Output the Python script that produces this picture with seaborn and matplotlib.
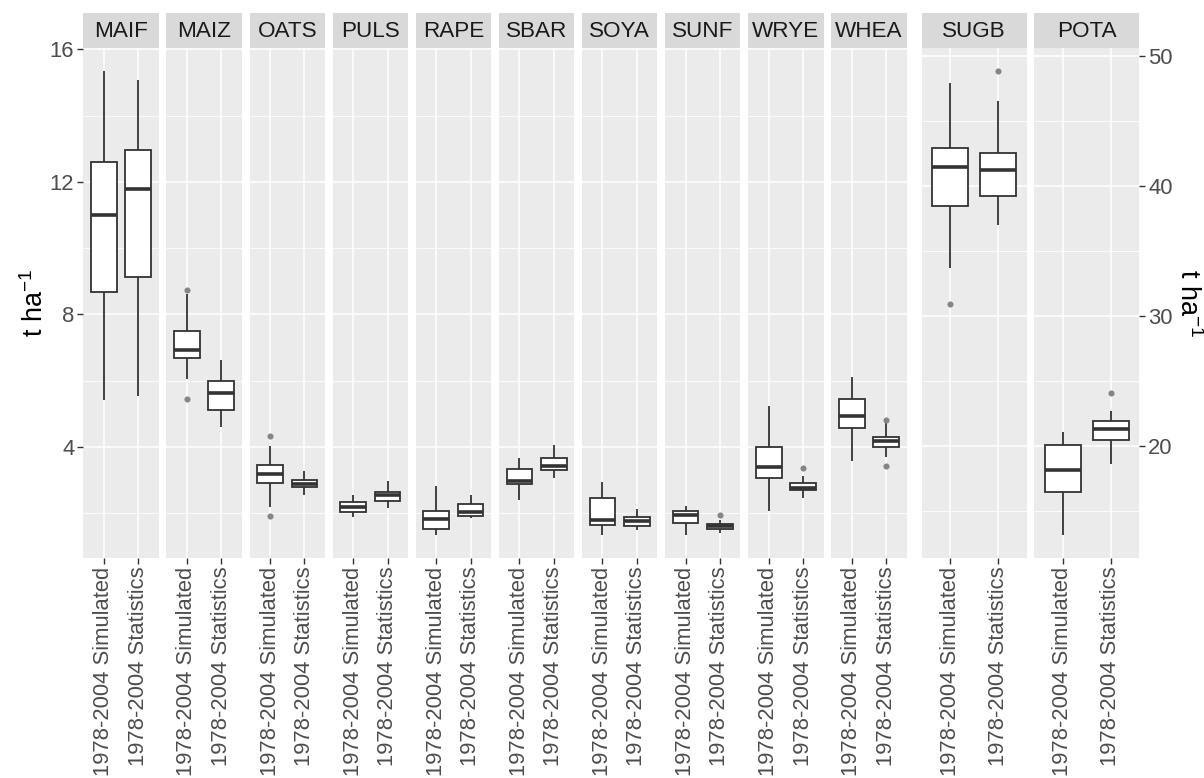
import numpy as np
import pandas as pd
import matplotlib
matplotlib.use("Agg")
import matplotlib.pyplot as plt
import seaborn as sns
from matplotlib.ticker import MultipleLocator

# ---------------- data ----------------
crops = ['MAIF', 'MAIZ', 'OATS', 'PULS', 'RAPE', 'SBAR', 'SOYA', 'SUNF',
         'WRYE', 'WHEA', 'SUGB', 'POTA']
right_crops = ['SUGB', 'POTA']
periods = ['1978-2004 Simulated', '1978-2004 Statistics']

# each list: [Simulated, Statistics] per crop, in the order of `crops`
whisker_low = [5.41, 5.54, 6.04, 4.60, 2.19, 2.56, 1.89, 2.17, 1.36, 1.85,
               2.39, 3.07, 1.36, 1.51, 1.36, 1.40, 2.06, 2.46, 3.58, 3.70,
               33.67, 37.03, 13.20, 18.64]
quart1 = [8.68, 9.13, 6.69, 5.13, 2.90, 2.78, 2.03, 2.37, 1.53, 1.93,
          2.89, 3.31, 1.66, 1.62, 1.72, 1.53, 3.07, 2.69, 4.57, 3.99,
          38.44, 39.28, 16.46, 20.48]
median = [11.00, 11.80, 6.94, 5.63, 3.20, 2.87, 2.18, 2.54, 1.83, 2.04,
          2.96, 3.43, 1.81, 1.76, 1.95, 1.61, 3.39, 2.75, 4.93, 4.17,
          41.49, 41.23, 18.15, 21.28]
quart3 = [12.60, 12.96, 7.51, 5.99, 3.47, 3.00, 2.35, 2.64, 2.07, 2.27,
          3.34, 3.67, 2.46, 1.90, 2.08, 1.67, 4.00, 2.90, 5.44, 4.30,
          42.97, 42.54, 20.10, 21.92]
whisker_high = [15.35, 15.07, 8.62, 6.64, 4.03, 3.27, 2.55, 2.96, 2.83, 2.54,
                3.68, 4.07, 2.93, 2.14, 2.21, 1.79, 5.25, 3.12, 6.11, 4.71,
                47.97, 46.54, 21.10, 22.72]

outlier_crop = ['MAIZ', 'MAIZ', 'OATS', 'OATS', 'SUNF', 'WRYE', 'WHEA', 'WHEA',
                'SUGB', 'SUGB', 'POTA']
outlier_period = [periods[0], periods[0], periods[0], periods[0], periods[1],
                  periods[1], periods[1], periods[1], periods[0], periods[1],
                  periods[1]]
outlier_value = [8.73, 5.44, 4.33, 1.92, 1.94, 3.38, 4.83, 3.44, 30.97, 48.87, 24.05]

# ---------------- tables ----------------
rows = []
k = 0
for c in crops:
    for p in periods:
        for v in (whisker_low[k], quart1[k], median[k], quart3[k], whisker_high[k]):
            rows.append((c, p, v))
        k += 1
box_df = pd.DataFrame(rows, columns=['crop', 'period', 'value'])
out_df = pd.DataFrame({'crop': outlier_crop, 'period': outlier_period,
                       'value': outlier_value})

# ---------------- style ----------------
sns.set_theme(style='darkgrid', rc={'axes.facecolor': '#EBEBEB',
                                    'grid.color': 'white'})
plt.rcParams['font.family'] = ['Liberation Sans', 'DejaVu Sans']
plt.rcParams['mathtext.default'] = 'regular'

W, H = 1204, 778
fig = plt.figure(figsize=(W / 100, H / 100), dpi=100)

panel_top, panel_bot, strip_top = 47.7, 557.7, 13.3


def frac_rect(x0, x1, y0, y1):
    return [x0 / W, 1 - y1 / H, (x1 - x0) / W, (y1 - y0) / H]


def ylims(vals):
    lo, hi = min(vals), max(vals)
    r = hi - lo
    return lo - 0.05 * r, hi + 0.05 * r


left_vals = box_df[~box_df.crop.isin(right_crops)].value.tolist() + \
    out_df[~out_df.crop.isin(right_crops)].value.tolist()
right_vals = box_df[box_df.crop.isin(right_crops)].value.tolist() + \
    out_df[out_df.crop.isin(right_crops)].value.tolist()
left_lim, right_lim = ylims(left_vals), ylims(right_vals)

tick_kw = dict(labelsize=15.8, labelcolor='#4D4D4D', color='#333333',
               length=4, width=1.0, pad=2.5)

for i, c in enumerate(crops):
    if c in right_crops:
        j = right_crops.index(c)
        x0 = 921.7 + j * 112.6
        x1 = x0 + 105.0
    else:
        x0 = 83.3 + i * 83.1
        x1 = x0 + 75.5
    ax = fig.add_axes(frac_rect(x0, x1, panel_top, panel_bot))
    sub = box_df[box_df.crop == c]
    sns.boxplot(data=sub, x='period', y='value', order=periods, ax=ax,
                whis=(0, 100), showfliers=False, showcaps=False,
                color='white', linecolor='#333333', linewidth=1.3,
                width=0.75, saturation=1,
                medianprops=dict(linewidth=2.6))
    osub = out_df[out_df.crop == c]
    if len(osub):
        sns.stripplot(data=osub, x='period', y='value', order=periods, ax=ax,
                      jitter=False, color='#858585', size=4.4, linewidth=0)
    ax.set_xlim(-0.6, 1.6)
    ax.set_ylim(*(right_lim if c in right_crops else left_lim))
    ax.set_xlabel('')
    ax.set_ylabel('')
    ax.xaxis.grid(True, color='white', linewidth=1.1)
    if c in right_crops:
        ax.yaxis.set_major_locator(MultipleLocator(10))
        ax.yaxis.set_minor_locator(MultipleLocator(5))
    else:
        ax.yaxis.set_major_locator(MultipleLocator(4))
        ax.yaxis.set_minor_locator(MultipleLocator(2))
    ax.yaxis.grid(True, which='major', color='white', linewidth=1.1)
    ax.yaxis.grid(True, which='minor', color='white', linewidth=0.55)
    ax.set_axisbelow(True)
    for s in ax.spines.values():
        s.set_visible(False)
    ax.tick_params(axis='x', bottom=True, **tick_kw)
    ax.tick_params(axis='y', which='major', **tick_kw)
    ax.tick_params(axis='y', which='minor', left=False, right=False)
    ax.set_xticks([0, 1])
    ax.set_xticklabels(periods, rotation=90, ha='center', va='top')
    if c == 'MAIF':
        ax.tick_params(axis='y', left=True, labelleft=True)
    elif c == 'POTA':
        ax.tick_params(axis='y', left=False, labelleft=False,
                       right=True, labelright=True)
    else:
        ax.tick_params(axis='y', left=False, labelleft=False)
    # strip
    sax = fig.add_axes(frac_rect(x0, x1, strip_top, panel_top))
    sax.set_facecolor('#D9D9D9')
    sax.set_xticks([])
    sax.set_yticks([])
    sax.grid(False)
    for s in sax.spines.values():
        s.set_visible(False)
    sax.text(0.5, 0.47, c, ha='center', va='center', fontsize=16.2,
             color='#1A1A1A', transform=sax.transAxes)

ymid = 1 - (panel_top + panel_bot) / 2 / H
fig.text(35 / W, ymid, 't ha$^{-1}$', rotation=90, ha='center', va='center',
         fontsize=19.5, color='black')
fig.text(1188 / W, ymid, 't ha$^{-1}$', rotation=-90, ha='center', va='center',
         fontsize=19.5, color='black')

fig.savefig('out.png', dpi=100)
